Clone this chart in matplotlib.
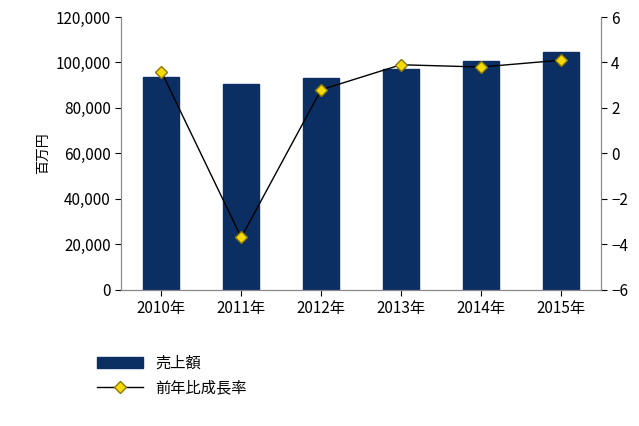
import numpy as np
import matplotlib.pyplot as plt

plt.rcParams['font.family'] = 'Noto Sans CJK JP'

years = ['2010年', '2011年', '2012年', '2013年', '2014年', '2015年']
sales = [93500, 90500, 93000, 97000, 100500, 104500]
growth = [3.6, -3.7, 2.8, 3.9, 3.8, 4.1]

fig = plt.figure(figsize=(6.39, 4.26), dpi=100)
ax = fig.add_axes([0.19, 0.32, 0.75, 0.64])
x = np.arange(len(years))
bars = ax.bar(x, sales, width=0.45, color='#0b2f62', edgecolor='#0b2f62', label='売上額')
ax.set_ylim(0, 120000)
ax.set_yticks(range(0, 120001, 20000))
ax.set_yticklabels([f'{v:,}' for v in range(0, 120001, 20000)], fontsize=11)
ax.set_xticks(x)
ax.set_xticklabels(years, fontsize=11)
ax.set_xlim(-0.5, 5.5)
ax.set_ylabel('百万円', fontsize=10)
ax.tick_params(direction='out', length=4)

ax2 = ax.twinx()
line, = ax2.plot(x, growth, color='black', lw=1, marker='D', markersize=6,
                 markerfacecolor='#f5d90a', markeredgecolor='#8a7a00', label='前年比成長率')
ax2.set_ylim(-6, 6)
ax2.set_yticks(range(-6, 7, 2))
ax2.tick_params(labelsize=11, direction='out', length=4)
for a in (ax, ax2):
    a.spines['top'].set_visible(False)
    for s in a.spines.values():
        s.set_color('#888888')

fig.legend([bars, line], ['売上額', '前年比成長率'], loc='upper left',
           bbox_to_anchor=(0.13, 0.2), frameon=False, fontsize=11, handlelength=3)
fig.savefig('out.png', dpi=100)
